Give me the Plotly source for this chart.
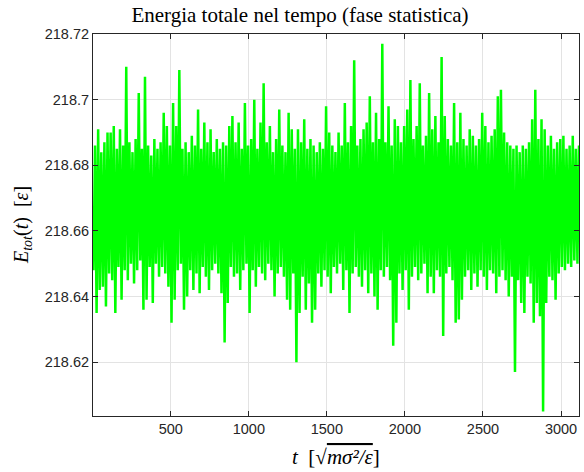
import plotly.graph_objects as go

# Time bins (centre of each 20-unit bin) and the max / min energy read in each bin
t_bins = [10 + 20 * k for k in range(156)]

e_max = [
    218.686, 218.691, 218.684, 218.687, 218.690, 218.690, 218.692, 218.685, 218.691, 218.686,
    218.710, 218.687, 218.684, 218.688, 218.702, 218.685, 218.707, 218.686, 218.683, 218.688,
    218.685, 218.687, 218.696, 218.692, 218.686, 218.699, 218.692, 218.709, 218.685, 218.687,
    218.684, 218.689, 218.686, 218.697, 218.685, 218.693, 218.687, 218.691, 218.684, 218.688,
    218.685, 218.687, 218.686, 218.692, 218.695, 218.687, 218.693, 218.685, 218.699, 218.686,
    218.688, 218.700, 218.685, 218.693, 218.705, 218.687, 218.692, 218.684, 218.688, 218.697,
    218.686, 218.684, 218.696, 218.691, 218.685, 218.691, 218.687, 218.694, 218.685, 218.688,
    218.686, 218.684, 218.687, 218.685, 218.698, 218.690, 218.686, 218.684, 218.690, 218.686,
    218.699, 218.687, 218.692, 218.712, 218.686, 218.688, 218.691, 218.693, 218.701, 218.687,
    218.696, 218.688, 218.717, 218.687, 218.698, 218.686, 218.694, 218.692, 218.687, 218.692,
    218.697, 218.706, 218.688, 218.692, 218.705, 218.686, 218.689, 218.702, 218.691, 218.695,
    218.687, 218.713, 218.695, 218.688, 218.686, 218.699, 218.687, 218.696, 218.688, 218.686,
    218.691, 218.689, 218.686, 218.688, 218.696, 218.692, 218.687, 218.689, 218.691, 218.701,
    218.703, 218.690, 218.687, 218.686, 218.685, 218.686, 218.684, 218.686, 218.685, 218.687,
    218.694, 218.703, 218.688, 218.694, 218.691, 218.686, 218.689, 218.685, 218.687, 218.688,
    218.689, 218.685, 218.686, 218.689, 218.685, 218.686,
]

e_min = [
    218.648, 218.635, 218.642, 218.643, 218.637, 218.647, 218.645, 218.635, 218.649, 218.639,
    218.648, 218.645, 218.650, 218.644, 218.648, 218.651, 218.636, 218.639, 218.649, 218.638,
    218.650, 218.646, 218.649, 218.647, 218.643, 218.632, 218.639, 218.648, 218.650, 218.636,
    218.640, 218.648, 218.642, 218.647, 218.641, 218.649, 218.646, 218.642, 218.648, 218.650,
    218.647, 218.641, 218.626, 218.638, 218.649, 218.646, 218.647, 218.642, 218.648, 218.650,
    218.635, 218.648, 218.643, 218.649, 218.647, 218.645, 218.650, 218.648, 218.640, 218.647,
    218.649, 218.646, 218.639, 218.636, 218.647, 218.620, 218.635, 218.646, 218.636, 218.644,
    218.632, 218.636, 218.647, 218.643, 218.648, 218.646, 218.641, 218.649, 218.647, 218.650,
    218.642, 218.648, 218.635, 218.647, 218.649, 218.646, 218.643, 218.648, 218.641, 218.647,
    218.640, 218.636, 218.648, 218.646, 218.649, 218.645, 218.625, 218.632, 218.647, 218.642,
    218.648, 218.636, 218.646, 218.649, 218.645, 218.647, 218.650, 218.641, 218.646, 218.641,
    218.648, 218.646, 218.628, 218.647, 218.649, 218.645, 218.632, 218.633, 218.639, 218.646,
    218.648, 218.642, 218.647, 218.643, 218.648, 218.646, 218.642, 218.648, 218.647, 218.641,
    218.646, 218.648, 218.645, 218.640, 218.646, 218.617, 218.645, 218.638, 218.635, 218.646,
    218.644, 218.632, 218.638, 218.634, 218.605, 218.638, 218.646, 218.645, 218.639, 218.647,
    218.649, 218.648, 218.650, 218.649, 218.651, 218.650,
]

x_tickvals = [500, 1000, 1500, 2000, 2500, 3000]
x_ticktext = ["500", "1000", "1500", "2000", "2500", "3000"]
y_tickvals = [218.62, 218.64, 218.66, 218.68, 218.70, 218.72]
y_ticktext = ["218.62", "218.64", "218.66", "218.68", "218.7", "218.72"]

# interleave min and max of each bin into one trace
t_series, e_series = [], []
for t, lo, hi in zip(t_bins, e_min, e_max):
    t_series += [t - 5, t + 5]
    e_series += [lo, hi]

fig = go.Figure()
fig.add_trace(go.Scatter(x=t_series, y=e_series, mode="lines",
                         line=dict(color="#00ff00", width=2.5), showlegend=False))

axis_common = dict(
    showline=True, linecolor="#262626", linewidth=1, mirror="ticks",
    ticks="inside", ticklen=5, tickwidth=1, tickcolor="#262626",
    showgrid=True, gridcolor="#e3e3e3", gridwidth=1, zeroline=False,
    tickfont=dict(family="Liberation Sans", size=14.5, color="#262626"),
)

fig.update_xaxes(range=[2, 3115], tickvals=x_tickvals, ticktext=x_ticktext, **axis_common)
fig.update_yaxes(range=[218.6036, 218.72], tickvals=y_tickvals, ticktext=y_ticktext, **axis_common)

fig.update_layout(
    width=584, height=472,
    margin=dict(l=93, r=5, t=34, b=56),
    paper_bgcolor="white", plot_bgcolor="white",
    title=dict(text="Energia totale nel tempo (fase statistica)",
               font=dict(family="Liberation Serif", size=21, color="black"),
               x=300 / 584, xref="container", xanchor="center",
               y=1 - 15 / 472, yref="container", yanchor="middle"),
    annotations=[
        dict(text="<i>E</i><sub><i>tot</i></sub>(<i>t</i>)  [<i>ε</i>]",
             xref="paper", yref="paper", x=0, y=0.5, xshift=-71,
             xanchor="center", yanchor="middle", textangle=-90, showarrow=False,
             font=dict(family="Liberation Serif", size=20, color="black")),
        dict(text="<i>t</i>  [√<span style='text-decoration:overline'><i>mσ²/ε</i></span>]",
             xref="paper", yref="paper", x=0.5, y=0, yshift=-41,
             xanchor="center", yanchor="middle", showarrow=False,
             font=dict(family="Liberation Serif", size=21, color="black")),
    ],
)

fig.write_html("out.html", config={"displayModeBar": False},
               post_script="document.body.style.margin='0';")
